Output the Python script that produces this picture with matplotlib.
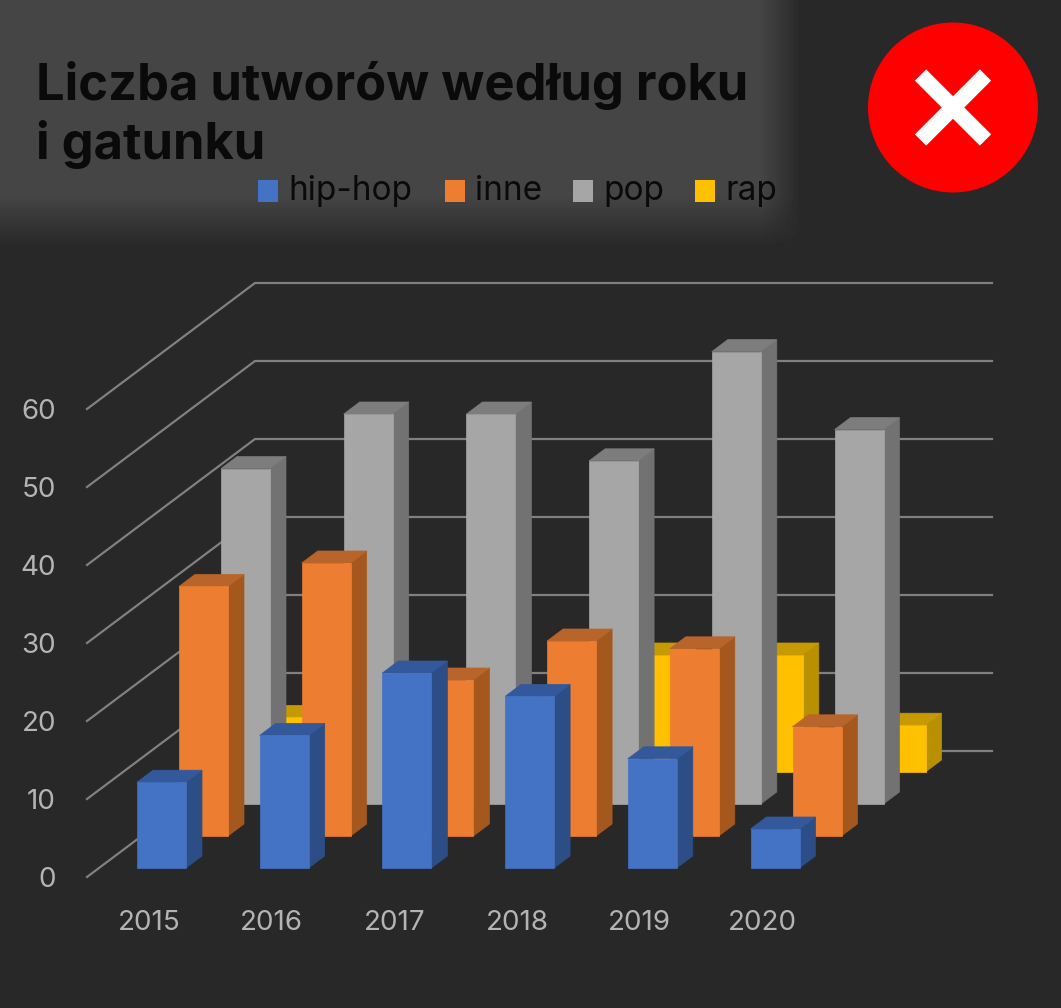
import numpy as np
import matplotlib
matplotlib.use('Agg')
import matplotlib.pyplot as plt

years = ['2015', '2016', '2017', '2018', '2019', '2020']
hip_hop = [11, 17, 25, 22, 14, 5]
inne = [32, 35, 20, 25, 24, 14]
pop = [43, 50, 50, 44, 58, 48]
rap = [7, 9, 7, 15, 15, 6]
y_ticks = [0, 10, 20, 30, 40, 50, 60]

# front, side, top
colors = {
    'hip-hop': ('#4472c4', '#2c4d86', '#34589c'),
    'inne': ('#ed7d31', '#a5581d', '#b8642a'),
    'pop': ('#a6a6a6', '#727272', '#7d7d7d'),
    'rap': ('#ffc000', '#b89000', '#c69a00'),
}

BG = '#292929'
X0, Y0 = 137, 868     # front left corner of first hip-hop bar
STEP = 122.7          # one year
SCALE = 7.8           # pixels for one unit
DEPTH_X, DEPTH_Y = 42, -32   # one series further back
BAR_W = 49
SIDE_X, SIDE_Y = 16, -12


def project(col, depth, value):
    x = X0 + STEP * col + DEPTH_X * depth
    y = Y0 - SCALE * value + DEPTH_Y * depth
    return x, y


def draw_bar(ax, col, depth, value, cols, z):
    x, y0 = project(col, depth, 0)
    _, y1 = project(col, depth, value)
    front = ([x, x + BAR_W, x + BAR_W, x], [y0, y0, y1, y1])
    side = ([x + BAR_W, x + BAR_W + SIDE_X, x + BAR_W + SIDE_X, x + BAR_W],
            [y0, y0 + SIDE_Y, y1 + SIDE_Y, y1])
    top = ([x, x + BAR_W, x + BAR_W + SIDE_X, x + SIDE_X],
           [y1, y1, y1 + SIDE_Y, y1 + SIDE_Y])
    for (px, py), c in zip((side, top, front), (cols[1], cols[2], cols[0])):
        ax.fill(px, py, facecolor=c, edgecolor=c, linewidth=0.5, zorder=z)


plt.rcParams['font.family'] = ['Inter', 'DejaVu Sans']
fig = plt.figure(figsize=(10.61, 10.08), dpi=100, facecolor=BG)
ax = fig.add_axes([0, 0, 1, 1])
ax.set_xlim(0, 1061)
ax.set_ylim(1008, 0)
ax.axis('off')

# lighter panel behind the title, soft edges
xx, yy = np.meshgrid(np.arange(1061), np.arange(1008))
fade = np.clip((800 - xx) / 40, 0, 1) * np.clip((245 - yy) / 50, 0, 1)
shade = 0x29 + (0x45 - 0x29) * fade
ax.imshow(shade / 255, cmap='gray', vmin=0, vmax=1, extent=(0, 1061, 1008, 0), aspect='auto', zorder=0)

# walls
for v in y_ticks:
    x_left = 87
    y_left = 877 - SCALE * v
    y_back = 751 - SCALE * v
    ax.plot([x_left, 255, 992], [y_left, y_back, y_back], color='#808080', lw=1.6, zorder=1,
            solid_joinstyle='miter')
    ax.text(56, 880 - SCALE * v, str(v), color='#b4b4b4', fontsize=20, ha='right', va='center')

# bars, furthest series first
series = [('rap', rap, 3), ('pop', pop, 2), ('inne', inne, 1), ('hip-hop', hip_hop, 0)]
for i, (name, values, depth) in enumerate(series):
    for col, val in enumerate(values):
        draw_bar(ax, col, depth, val, colors[name], 2 + i)

for col, year in enumerate(years):
    ax.text(project(col, 0, 0)[0] + 12, 923, year, color='#b4b4b4', fontsize=20, ha='center', va='center')

ax.text(36, 100, 'Liczba utworów według roku', color='#0a0a0a', fontsize=36.5, fontweight='bold', va='baseline')
ax.text(36, 159, 'i gatunku', color='#0a0a0a', fontsize=36.5, fontweight='bold', va='baseline')

# legend
legend_x = [258, 445, 573, 695]
for lx, name in zip(legend_x, ['hip-hop', 'inne', 'pop', 'rap']):
    ax.fill([lx, lx + 20, lx + 20, lx], [180, 180, 202, 202], facecolor=colors[name][0], zorder=3)
    ax.text(lx + 30, 200, name, color='#0a0a0a', fontsize=24, va='baseline')

# red cross badge
ax.add_patch(plt.Circle((953, 107.5), 85, facecolor='#ff0000', edgecolor='none', zorder=5))
ax.plot([920.5, 985.5], [75, 140], color='white', lw=11.5, solid_capstyle='butt', zorder=6)
ax.plot([920.5, 985.5], [140, 75], color='white', lw=11.5, solid_capstyle='butt', zorder=6)

fig.savefig('out.png', dpi=100, facecolor=BG)
